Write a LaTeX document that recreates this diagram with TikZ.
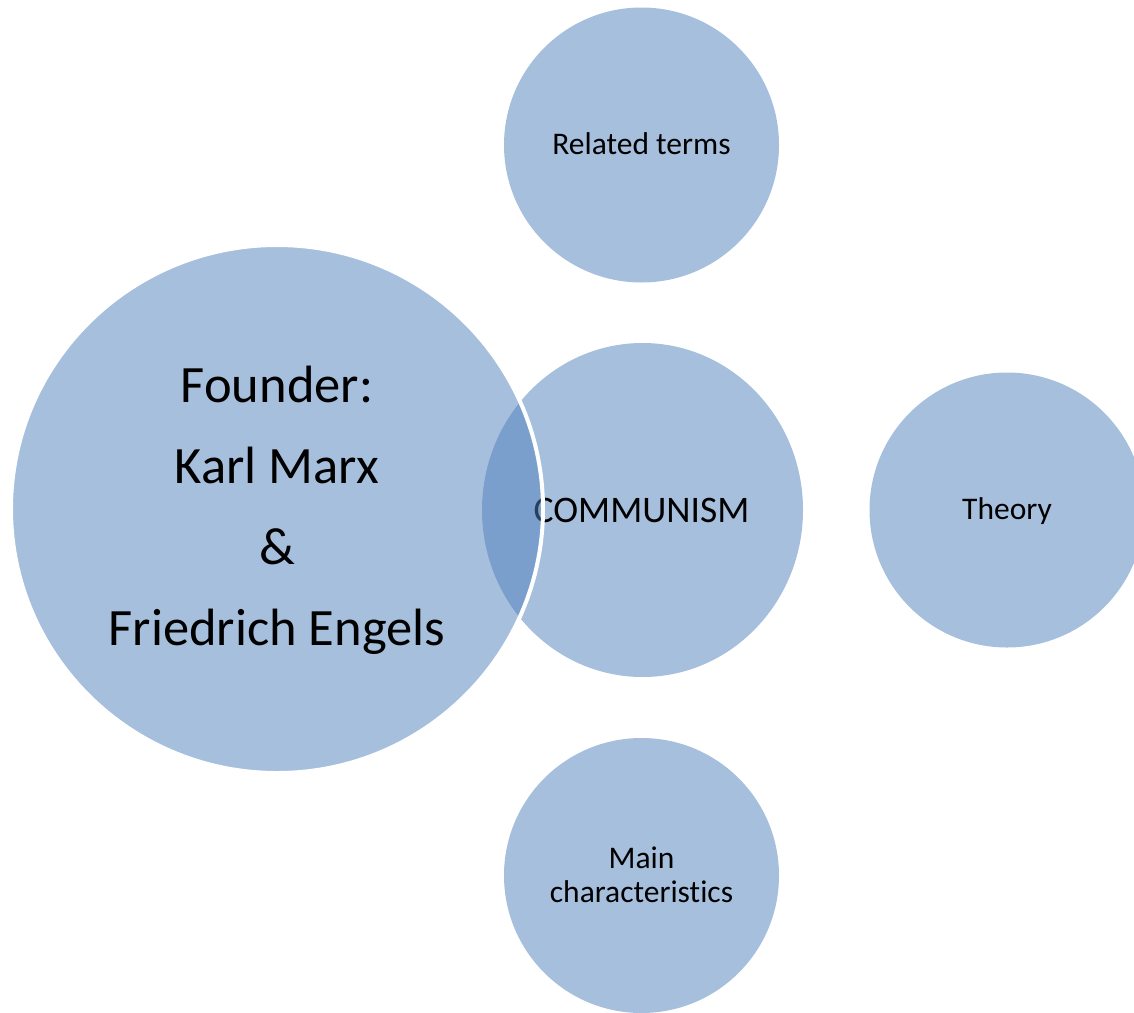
\documentclass[tikz,border=0pt]{standalone}
\usepackage{fontspec}
\setmainfont{Carlito}[Ligatures={NoCommon}]
\usetikzlibrary{shapes.geometric}
\definecolor{officeblue}{HTML}{4F81BD}
\tikzset{
  bub/.style={circle, fill=officeblue, fill opacity=0.5, inner sep=0pt, outer sep=0pt},
  bubE/.style={ellipse, fill=officeblue, fill opacity=0.5, inner sep=0pt, outer sep=0pt},
  lbl/.style={inner sep=0pt, outer sep=0pt, anchor=base, text=black, align=center},
  smallfont/.style={font=\fontsize{31.5}{34}\selectfont},
  midfont/.style={font=\fontsize{37.5}{45}\selectfont},
  bigfont/.style={font=\fontsize{52.5}{81}\selectfont}
}
\begin{document}
\begin{tikzpicture}[x=1pt,y=-1pt]
\fill[white] (0,0) rectangle (1134,1012);
\useasboundingbox (0,0) rectangle (1134,1012);
\clip (0,0) rectangle (1134,1012);
\node[bub, minimum size=275pt] (rel) at (641.5,145) {};
\node[bub, minimum size=275pt] (theory) at (1007,510) {};
\node[bub, minimum size=275pt] (main) at (641.5,875.5) {};
\node[bubE, minimum width=321pt, minimum height=334pt] (comm) at (642.5,510) {};
\node[lbl, smallfont] (relt) at (641.5,154) {Related terms};
\node[lbl, smallfont] (theoryt) at (1007,519) {Theory};
\node[lbl, smallfont] (maint) at (641.5,902) {Main\\characteristics};
\node[lbl, midfont] (commt) at (641.5,522) {COMMUNISM};
\node[bubE, minimum width=532pt, minimum height=528pt, draw=white, draw opacity=1, line width=4pt] (founder) at (277,509) {};
\node[lbl, bigfont] (foundert) at (277,645) {Founder:\\Karl Marx\\\&\\Friedrich Engels};
\end{tikzpicture}
\end{document}
